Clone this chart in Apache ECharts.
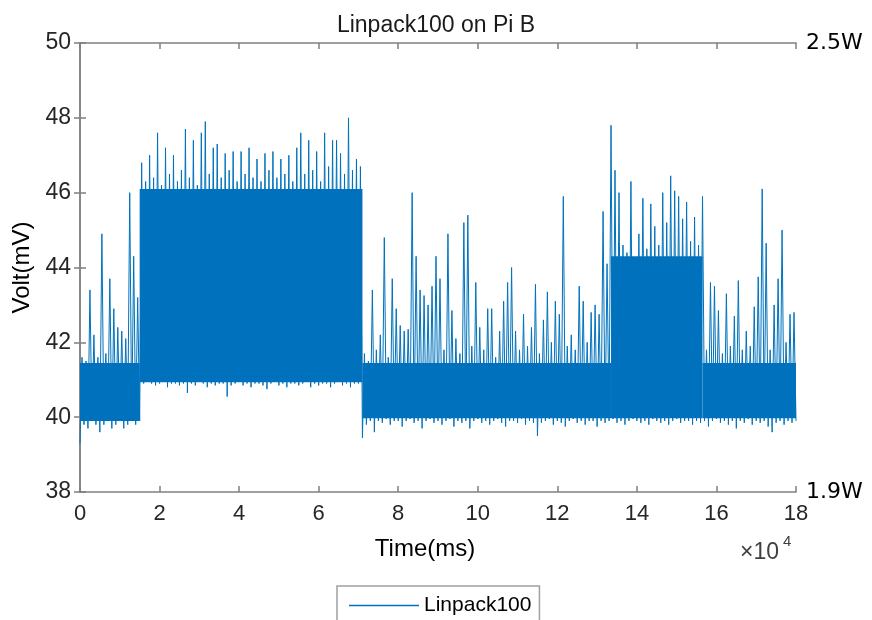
<!DOCTYPE html>
<html>
<head>
<meta charset="utf-8">
<title>Linpack100 on Pi B</title>
<script src="https://cdn.jsdelivr.net/npm/echarts@6.0.0/dist/echarts.min.js"></script>
<style>
  html, body { margin: 0; padding: 0; background: #fff; }
  #chart { width: 872px; height: 620px; }
</style>
</head>
<body>
<div id="chart"></div>
<script>
// samples: a low value every 1000 ms, a high value half a step later
const sampleStepMs = 1000;

const lowMv = [
  39.3, 39.8, 39.7, 39.9, 39.8, 39.6, 39.8, 39.9, 39.7, 39.8,
  39.9, 39.7, 39.8, 39.9, 39.8, 39.9,
  40.9, 40.95, 40.9, 40.85, 40.9, 40.95, 40.8, 40.9, 40.9, 40.85,
  40.9, 40.65, 40.9, 40.85, 40.95, 40.9, 40.8, 40.9, 40.85, 40.9,
  40.9, 40.55, 40.85, 40.9, 40.95, 40.85, 40.9, 40.8, 40.9, 40.9,
  40.85, 40.75, 40.9, 40.95, 40.85, 40.9, 40.8, 40.9, 40.9, 40.85,
  40.9, 40.95, 40.8, 40.9, 40.85, 40.9, 40.9, 40.8, 40.9, 40.95,
  40.85, 40.9, 40.8, 40.9, 40.9,
  39.45, 39.8, 39.9, 39.6, 39.9, 39.85, 39.95, 39.8, 39.9, 39.9,
  39.75, 39.9, 39.95, 39.85, 39.9, 39.7, 39.9, 39.95, 39.85, 39.9,
  39.8, 39.9, 39.95, 39.75, 39.9, 39.85, 39.9, 39.7, 39.9, 39.95,
  39.85, 39.9, 39.8, 39.9, 39.95, 39.85, 39.75, 39.9, 39.9, 39.85,
  39.95, 39.8, 39.9, 39.85, 39.5, 39.85, 39.9, 39.95, 39.8, 39.9,
  39.85, 39.75, 39.9, 39.95, 39.85, 39.9, 39.8, 39.9, 39.9, 39.75,
  39.9, 39.85, 39.9, 39.95, 39.85, 39.9, 39.8, 39.9, 39.95, 39.9,
  39.85, 39.9, 39.8, 39.95, 39.9, 39.85, 39.9, 39.8, 39.9, 39.95,
  39.85, 39.9, 39.9, 39.8, 39.9, 39.85, 39.9, 39.75, 39.9, 39.95,
  39.85, 39.9, 39.8, 39.9, 39.7, 39.9, 39.85, 39.95, 39.8, 39.9,
  39.85, 39.9, 39.75, 39.6, 39.85, 39.9, 39.8, 39.9, 39.85, 39.9
];

const highMv = [
  41.6, 41.5, 43.4, 42.2, 41.6, 44.9, 41.7, 43.7, 42.9, 42.4,
  42.3, 42.1, 46.0, 44.3, 43.2,
  46.8, 46.3, 47.0, 46.4, 47.6, 46.2, 47.2, 46.5, 47.0, 46.3,
  46.6, 47.7, 46.4, 47.4, 46.2, 47.6, 47.9, 46.5, 47.2, 47.3,
  46.4, 47.05, 46.6, 47.1, 46.3, 47.1, 46.5, 47.2, 46.4, 46.9,
  46.3, 47.05, 46.6, 47.1, 46.4, 46.9, 46.5, 47.0, 46.3, 47.2,
  47.6, 46.5, 47.4, 46.6, 47.1, 46.3, 47.6, 46.7, 47.4, 47.4,
  47.05, 46.5, 48.0, 46.6, 46.9, 46.7,
  41.7, 41.5, 43.4, 41.8, 42.2, 44.8, 41.6, 43.7, 42.9, 42.45,
  42.3, 42.35, 46.0, 44.3, 43.4, 43.25, 43.0, 43.5, 44.3, 43.7,
  41.8, 44.9, 42.85, 42.1, 41.7, 45.2, 45.4, 41.9, 43.6, 42.4,
  41.8, 42.9, 42.9, 41.6, 42.3, 43.1, 43.6, 44.0, 42.3, 41.8,
  42.75, 41.9, 42.4, 43.55, 41.7, 42.6, 43.35, 42.0, 43.1, 42.75,
  45.9, 41.9, 42.2, 41.8, 43.5, 43.1, 42.0, 42.8, 43.0, 42.75,
  45.5, 44.1,
  47.8, 46.6, 46.0, 44.6, 44.4, 46.3, 43.6, 44.9, 45.85, 44.5,
  45.7, 45.1, 44.6, 46.0, 45.2, 46.45, 46.05, 45.9, 45.3, 45.75,
  44.7, 45.35, 44.6, 45.9,
  41.8, 43.6, 43.5, 42.85, 41.7, 43.3, 41.9, 42.7, 43.65, 41.8,
  42.3, 41.9, 42.95, 43.75, 46.1, 44.65, 41.8, 43.0, 43.7, 45.0,
  42.0, 42.75, 42.8
];

// dense body of the trace, one block per load phase
const bandStartMs = [0, 15000, 71000, 133500, 156500];
const bandEndMs = [15000, 71000, 133500, 156500, 180000];
const bandLowMv = [39.9, 40.93, 39.97, 39.97, 39.97];
const bandHighMv = [41.45, 46.1, 41.45, 44.3, 41.45];

const powerTicksMv = [38, 50];
const powerLabels = ['1.9W', '2.5W'];

const blue = '#0072BD';
const axisGray = '#808080';
const font = 'Liberation Sans';

let signal = [];
for (let i = 0; i < highMv.length; i++) {
  signal.push([i * sampleStepMs, lowMv[i]]);
  signal.push([i * sampleStepMs + sampleStepMs / 2, highMv[i]]);
}
signal.push([(lowMv.length - 1) * sampleStepMs, lowMv[lowMv.length - 1]]);

let bands = bandStartMs.map((s, i) => [
  { xAxis: s, yAxis: bandLowMv[i] },
  { xAxis: bandEndMs[i], yAxis: bandHighMv[i] }
]);

const axisLine = { show: true, lineStyle: { color: axisGray, width: 1.5 } };
const axisTick = { show: true, inside: true, length: 6, lineStyle: { color: axisGray, width: 1.5 } };

const option = {
  animation: false,
  backgroundColor: '#fff',
  textStyle: { fontFamily: font },
  title: {
    text: 'Linpack100 on Pi B',
    left: 'center',
    top: 9,
    textStyle: { fontSize: 23, fontWeight: 'normal', color: '#1a1a1a', fontFamily: font }
  },
  grid: { left: 80, right: 76, top: 43, bottom: 128 },
  legend: {
    left: 337,
    top: 586,
    padding: [9, 8, 8, 12],
    borderColor: '#a0a0a0',
    borderWidth: 1.5,
    backgroundColor: '#fff',
    itemWidth: 70,
    itemHeight: 1.5,
    itemTextGap: 7,
    textStyle: { fontSize: 21, color: '#000', fontFamily: font },
    data: [{ name: 'Linpack100', icon: 'rect' }]
  },
  xAxis: [
    {
      type: 'value', min: 0, max: 180000, interval: 20000, position: 'bottom',
      axisLine: axisLine, axisTick: axisTick, splitLine: { show: false },
      axisLabel: { formatter: v => v / 10000, fontSize: 22, color: '#262626', margin: 11, fontFamily: font },
      name: 'Time(ms)', nameLocation: 'middle', nameGap: 45,
      nameTextStyle: { fontSize: 24, color: '#000', padding: [0, 26, 0, 0], fontFamily: font }
    },
    {
      type: 'value', min: 0, max: 180000, interval: 20000, position: 'top',
      axisLine: axisLine, axisTick: axisTick, splitLine: { show: false },
      axisLabel: { show: false }
    }
  ],
  yAxis: [
    {
      type: 'value', min: 38, max: 50, interval: 2, position: 'left',
      axisLine: axisLine, axisTick: axisTick, splitLine: { show: false },
      axisLabel: { fontSize: 23, color: '#262626', margin: 9, fontFamily: font },
      name: 'Volt(mV)', nameLocation: 'middle', nameGap: 42,
      nameTextStyle: { fontSize: 24, color: '#000', fontFamily: font }
    },
    {
      type: 'value', min: 38, max: 50, interval: 2, position: 'right',
      axisLine: axisLine, axisTick: axisTick, splitLine: { show: false },
      axisLabel: {
        formatter: v => {
          let k = powerTicksMv.indexOf(v);
          return k < 0 ? '' : powerLabels[k];
        },
        fontSize: 22, color: '#000', margin: 10, fontFamily: 'DejaVu Sans'
      }
    }
  ],
  graphic: [
    { type: 'text', left: 740, top: 541, style: { text: '×10', fontSize: 23, fill: '#404040', fontFamily: font } },
    { type: 'text', left: 783, top: 534, style: { text: '4', fontSize: 15, fill: '#404040', fontFamily: font } }
  ],
  series: [
    {
      name: 'Linpack100',
      type: 'line',
      xAxisIndex: 0,
      yAxisIndex: 0,
      data: signal,
      symbol: 'none',
      silent: true,
      lineStyle: { color: blue, width: 1 },
      itemStyle: { color: blue },
      markArea: {
        silent: true,
        itemStyle: { color: blue, opacity: 1 },
        data: bands
      }
    }
  ]
};

const chart = echarts.init(document.getElementById('chart'));
chart.setOption(option);
</script>
</body>
</html>
